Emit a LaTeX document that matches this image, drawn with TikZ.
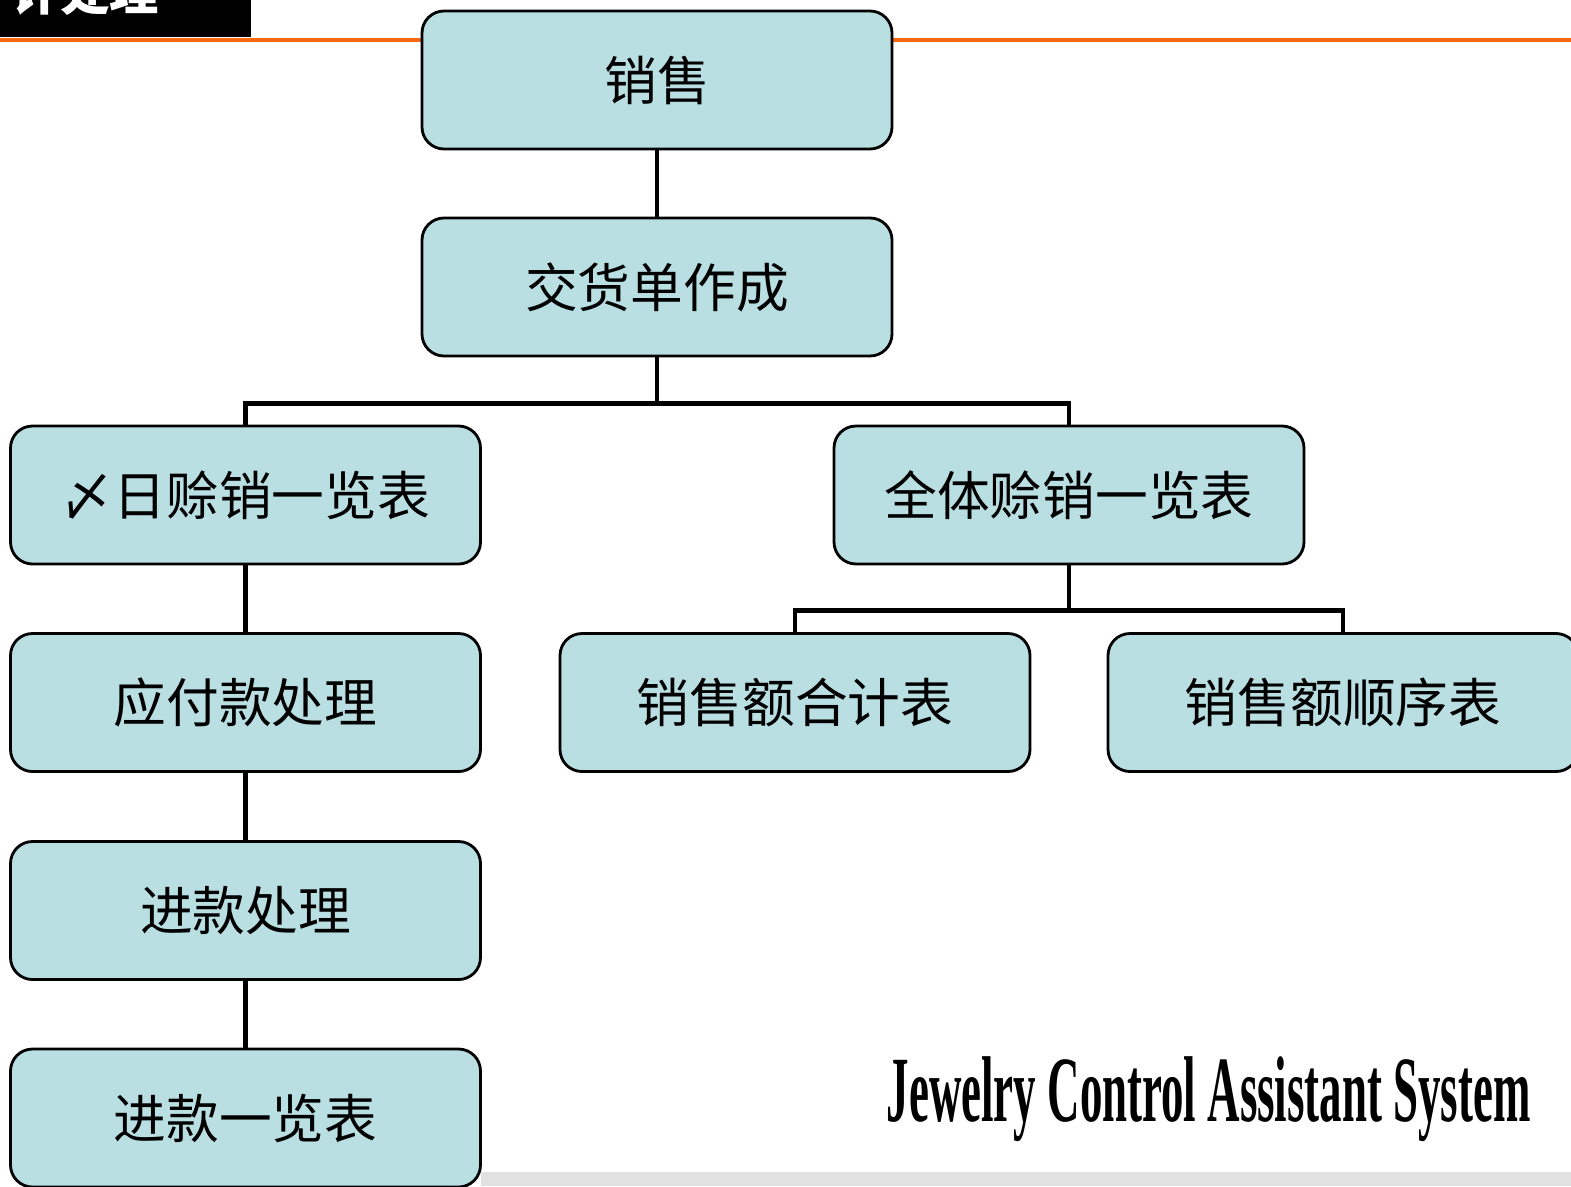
\documentclass[tikz,border=0pt]{standalone}
\usepackage{fontspec}
\usepackage{graphicx}
\setmainfont{Liberation Serif}
\newfontfamily\cjk{Noto Sans CJK SC}
\definecolor{boxblau}{RGB}{185,223,227}
\definecolor{balkenorange}{RGB}{250,105,15}
\definecolor{fussgrau}{RGB}{225,225,225}
\tikzset{
  kasten/.style={draw, line width=0.8pt, fill=boxblau, rounded corners=0.22cm,
    minimum width=4.7cm, minimum height=1.38cm, inner sep=0pt,
    font=\cjk\fontsize{15}{18}\selectfont},
  linie/.style={line width=1.2pt}
}
\begin{document}
\begin{tikzpicture}
  \useasboundingbox (0,0) rectangle (15.71,-11.86);
  \clip (0,0) rectangle (15.71,-11.86);

  % Kopfzeile
  \fill[black] (0,0) rectangle (2.51,-0.37);
  \node[text=white, font=\cjk\bfseries\fontsize{14}{16}\selectfont] (kopf) at (0.85,0.08) {计处理};
  \draw[balkenorange, line width=0.9pt] (0,-0.40) -- (15.71,-0.40);

  % Fussleiste
  \fill[fussgrau] (4.81,-11.72) rectangle (15.71,-11.86);

  % Kaesten
  \node[kasten] (verkauf) at (6.57,-0.80) {销售};
  \node[kasten] (lieferschein) at (6.57,-2.87) {交货单作成};
  \node[kasten] (stichtag) at (2.455,-4.95) {〆日赊销一览表};
  \node[kasten] (gesamt) at (10.69,-4.95) {全体赊销一览表};
  \node[kasten] (zahlung) at (2.455,-7.025) {应付款处理};
  \node[kasten] (summe) at (7.95,-7.025) {销售额合计表};
  \node[kasten] (rangfolge) at (13.43,-7.025) {销售额顺序表};
  \node[kasten] (eingang) at (2.455,-9.105) {进款处理};
  \node[kasten] (eingangsliste) at (2.455,-11.18) {进款一览表};

  % Verbindungen
  \draw[linie] (verkauf.south) -- (lieferschein.north);
  \draw[linie] (lieferschein.south) -- ++(0,-0.46) -| (stichtag.north);
  \draw[linie] (lieferschein.south) -- ++(0,-0.46) -| (gesamt.north);
  \draw[linie] (gesamt.south) -- ++(0,-0.45) -| (summe.north);
  \draw[linie] (gesamt.south) -- ++(0,-0.45) -| (rangfolge.north);
  \draw[linie] (stichtag.south) -- (zahlung.north);
  \draw[linie] (zahlung.south) -- (eingang.north);
  \draw[linie] (eingang.south) -- (eingangsliste.north);

  % Titel
  \node[anchor=south west, inner sep=0pt] (titel) at (8.86,-11.42)
    {\resizebox*{6.44cm}{0.85cm}{\bfseries Jewelry Control Assistant System}};
\end{tikzpicture}
\end{document}
